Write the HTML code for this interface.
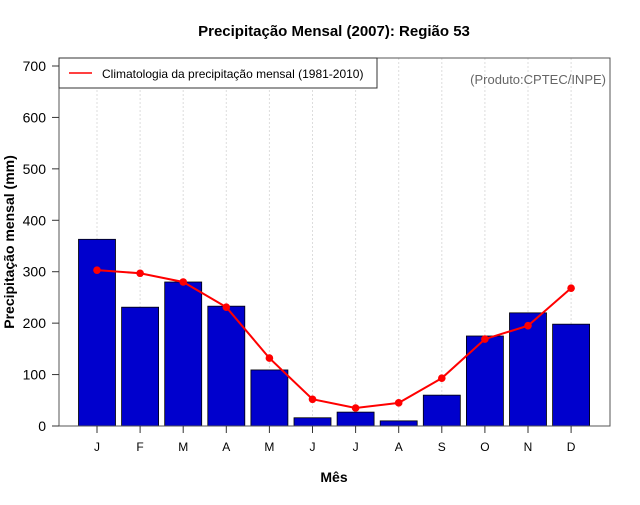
<!DOCTYPE html>
<html><head><meta charset="utf-8"><style>
body{margin:0;background:#fff;}
svg text{font-family:"Liberation Sans",sans-serif;}
</style></head><body>
<svg id="chart" width="640" height="500" xmlns="http://www.w3.org/2000/svg">
<rect width="640" height="500" fill="#fff"/>
<text x="334" y="36" text-anchor="middle" font-size="15" font-weight="bold">Precipitação Mensal (2007): Região 53</text>
<g id="grid"></g>
<g id="bars"></g>
<g id="line"></g>
<rect x="59" y="58" width="551" height="368" fill="none" stroke="#555" stroke-width="1"/>
<g id="yaxis"></g>
<g id="xaxis"></g>
<text x="14" y="242" transform="rotate(-90 14 242)" text-anchor="middle" font-size="14" font-weight="bold">Precipitação mensal (mm)</text>
<text x="334" y="482" text-anchor="middle" font-size="14" font-weight="bold">Mês</text>
<g>
<rect x="59" y="58" width="318" height="30" fill="#fff" stroke="#333"/>
<line x1="69" y1="73" x2="92" y2="73" stroke="#f00" stroke-width="1.5"/>
<text x="102" y="78" font-size="12">Climatologia da precipitação mensal (1981-2010)</text>
</g>
<text x="606" y="84" text-anchor="end" font-size="13" fill="#666">(Produto:CPTEC/INPE)</text>
</svg>
<script>
const months=["J","F","M","A","M","J","J","A","S","O","N","D"];
const observed=[363,231,280,233,109,16,27,10,60,175,220,198];
const climatology=[303,297,280,231,132,52,35,45,93,169,195,268];
const yTicks=[0,100,200,300,400,500,600,700];
const NS="http://www.w3.org/2000/svg";
const x=i=>97+i*43.1;
const y=v=>426-v*0.5143;
function mk(tag,attrs,parent){const e=document.createElementNS(NS,tag);for(const k in attrs)e.setAttribute(k,attrs[k]);document.getElementById(parent).appendChild(e);return e;}
months.forEach((m,i)=>{
  const g=mk('line',{x1:x(i),x2:x(i),y1:58,y2:426,stroke:'#ddd','stroke-dasharray':'2,2'},'grid');
  
  
  const b=mk('rect',{x:x(i)-18.5,y:y(observed[i]),width:37,height:observed[i]*0.5143,fill:'#0000cd',stroke:'#000','stroke-width':0.8},'bars');
  
  
  const t=mk('line',{x1:x(i),x2:x(i),y1:426,y2:433,stroke:'#333'},'xaxis');
  
  
  const l=mk('text',{x:x(i),y:451,'text-anchor':'middle','font-size':12},'xaxis');
  l.textContent=m;
  
  
});
const pts=climatology.map((v,i)=>x(i)+','+y(v)).join(' ');
const pl=mk('polyline',{points:pts,fill:'none',stroke:'#f00','stroke-width':2},'line');


climatology.forEach((v,i)=>{
  const c=mk('circle',{cx:x(i),cy:y(v),r:3.8,fill:'#f00'},'line');
  
  
});
yTicks.forEach(v=>{
  const t=mk('line',{x1:52,x2:59,y1:y(v),y2:y(v),stroke:'#333'},'yaxis');
  
  
  const l=mk('text',{x:46,y:y(v)+5,'text-anchor':'end','font-size':14},'yaxis');
  l.textContent=v;
  
  
});
</script>
</body></html>
